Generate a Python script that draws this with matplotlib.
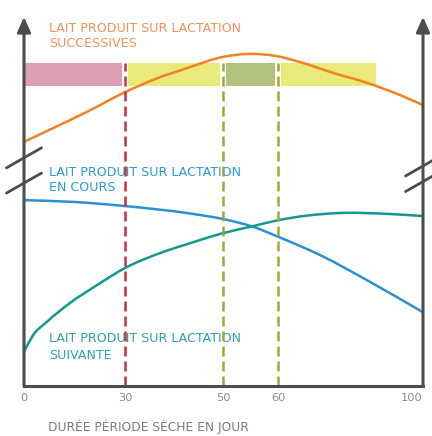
import matplotlib
matplotlib.use("Agg")
import matplotlib.pyplot as plt
import numpy as np
from matplotlib.path import Path
from matplotlib.patches import PathPatch
from matplotlib.transforms import offset_copy

# tick days and where they sit along the (non linear) axis
tick_days = [0, 30, 50, 60, 100]
tick_labels = ["0", "30", "50", "60", "100"]
tick_pos = [0, 101, 199, 254, 399]

# curves (x in days, y in relative units 0-100)
succ_days = [0, 8.6, 18.7, 30, 35.7, 42.7, 50, 54.4, 59.8, 66.1, 75.2, 84.6, 93.7, 100]
succ_vals = [65.8, 69.5, 73.9, 79.2, 82.5, 85.7, 88.7, 89.5, 88.9, 87.3, 84.4, 81.7, 78.4, 75.7]

cours_days = [0, 15.1, 30, 42.7, 50, 55.5, 60.1, 71.6, 85.5, 100]
cours_vals = [50.1, 49.6, 48.5, 46.6, 45.0, 42.9, 40.2, 35.3, 28.0, 19.9]

suiv_days = [0, 2.7, 6.8, 13.7, 21.7, 30, 37.1, 43.3, 50, 55.5, 60.1, 76.3, 90.1, 100]
suiv_vals = [9.2, 13.7, 17.3, 22.4, 27.2, 31.8, 35.8, 38.5, 41.2, 43.1, 44.7, 46.6, 46.4, 45.8]

# coloured periods on top
period_start = [0, 30, 50, 60]
period_end = [30, 50, 60, 87]
period_colors = ["#dca0b2", "#e9ea7a", "#b3c17f", "#e9ea7a"]
bar_low, bar_high = 80.9, 87.1

# dashed markers
mark_days = [30, 50, 60]
mark_colors = ["#c8303c", "#a3a536", "#a3a536"]

AXIS_COLOR = "#4d4d4d"


def fwd(d):
    return np.interp(d, tick_days, tick_pos)


def inv(p):
    return np.interp(p, tick_pos, tick_days)


def smooth_path(days, vals):
    # cubic Hermite through the points (as Bezier), in axis position space
    x = fwd(np.asarray(days, float))
    y = np.asarray(vals, float)
    m = np.gradient(y, x)
    verts = [(x[0], y[0])]
    codes = [Path.MOVETO]
    for i in range(len(x) - 1):
        dx = (x[i + 1] - x[i]) / 3
        verts += [(x[i] + dx, y[i] + m[i] * dx),
                  (x[i + 1] - dx, y[i + 1] - m[i + 1] * dx),
                  (x[i + 1], y[i + 1])]
        codes += [Path.CURVE4] * 3
    verts = np.array(verts)
    verts[:, 0] = inv(verts[:, 0])
    return Path(verts, codes)


plt.rcParams['font.family'] = ['DejaVu Sans']

fig = plt.figure(figsize=(4.32, 4.36), dpi=100)
fig.patch.set_facecolor("white")
ax = fig.add_axes([24 / 432, 50 / 436, 399 / 432, 371 / 436])
ax.set_xscale('function', functions=(fwd, inv))
ax.set_xlim(0, 100)
ax.set_ylim(0, 100)
for s in ax.spines.values():
    s.set_visible(False)
ax.set_yticks([])

# periods
for a, b, c in zip(period_start, period_end, period_colors):
    ax.barh((bar_low + bar_high) / 2, b - a, left=a, height=bar_high - bar_low,
            color=c, zorder=1)
for d in mark_days:
    ax.plot([d, d], [bar_low - 0.3, bar_high + 0.3], color="white", lw=4.3, zorder=2)

# curves
for days, vals, c in [(succ_days, succ_vals, "#f28024"),
                      (cours_days, cours_vals, "#2b8fd2"),
                      (suiv_days, suiv_vals, "#15968f")]:
    ax.add_patch(PathPatch(smooth_path(days, vals), facecolor="none",
                           edgecolor=c, lw=1.8, zorder=3, clip_on=False))

# dashed lines
for d, c in zip(mark_days, mark_colors):
    ax.plot([d, d], [0, bar_high], color=c, lw=1.8, dashes=(4, 2), zorder=4)

# axes with arrows
ax.plot([0, 100], [0, 0], color=AXIS_COLOR, lw=2.2, clip_on=False,
        solid_capstyle='projecting', zorder=5)
for x in [0, 100]:
    ax.annotate("", xy=(x, 99.5), xytext=(x, 0), annotation_clip=False,
                arrowprops=dict(arrowstyle='-|>,head_length=0.9,head_width=0.4',
                                color=AXIS_COLOR, lw=2.2, shrinkA=0, shrinkB=0),
                zorder=5)

# axis breaks
for x, y in [(0, 61.5), (0, 54.7), (100, 59.3), (100, 55.1)]:
    start = offset_copy(ax.transData, fig=fig, x=-17.5, y=-10, units='dots')
    ax.annotate("", xy=(x, y), xycoords=start, xytext=(25.2, 14.4),
                textcoords='offset points', annotation_clip=False,
                arrowprops=dict(arrowstyle='-', color=AXIS_COLOR, lw=2.0,
                                shrinkA=0, shrinkB=0), zorder=6)

# labels
fs = 9.1
ax.text(0.063, 0.963, "LAIT PRODUIT SUR LACTATION", transform=ax.transAxes,
        color="#f29060", fontsize=fs, va='center')
ax.text(0.063, 0.922, "SUCCESSIVES", transform=ax.transAxes,
        color="#f29060", fontsize=fs, va='center')
ax.text(0.063, 0.576, "LAIT PRODUIT SUR LACTATION", transform=ax.transAxes,
        color="#2e9bd6", fontsize=fs, va='center')
ax.text(0.063, 0.536, "EN COURS", transform=ax.transAxes,
        color="#2e9bd6", fontsize=fs, va='center')
ax.text(0.063, 0.127, "LAIT PRODUIT SUR LACTATION", transform=ax.transAxes,
        color="#30a3a6", fontsize=fs, va='center')
ax.text(0.063, 0.081, "SUIVANTE", transform=ax.transAxes,
        color="#30a3a6", fontsize=fs, va='center')

ax.set_xticks(tick_days)
ax.set_xticklabels(tick_labels)
ax.tick_params(axis='x', length=0, pad=5, labelsize=8.2, labelcolor="#8a8a8a")
# keep "100" inside the picture
ax.get_xticklabels()[-1].set_horizontalalignment('right')
ax.minorticks_off()

fig.text(48 / 432, 1 - 427 / 436, "DURÉE PÉRIODE SÈCHE EN JOUR", color="#7a7a7a",
         fontsize=8.8, va='center')

fig.savefig("out.png", dpi=100, facecolor="white")
